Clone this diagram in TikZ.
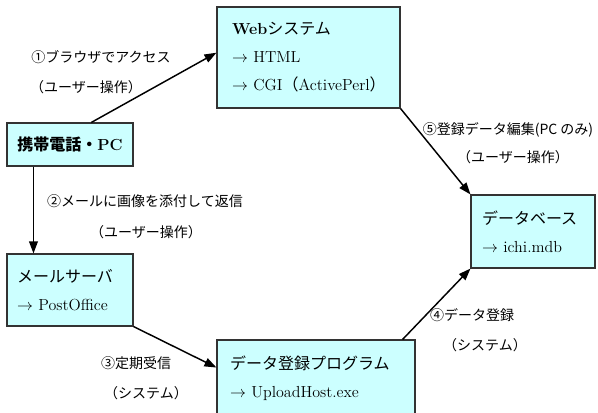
\documentclass[tikz,border=0pt]{standalone}
\usepackage{fontspec}
\usepackage{tikz}
\usetikzlibrary{arrows.meta}
\newfontfamily\jp{Noto Sans CJK JP}
\definecolor{boxfill}{RGB}{204,255,255}
\tikzset{
	sysbox/.style={draw=black!80, fill=boxfill, line width=0.8pt, align=left, font=\fontsize{12}{21}\selectfont},
	steplabel/.style={font=\jp\fontsize{10.5}{12}\selectfont, inner sep=0pt},
	flow/.style={line width=1.1pt, -{Triangle[length=9pt,width=6.5pt]}}
}
\begin{document}
\begin{tikzpicture}[x=0.75pt, y=-0.75pt]
			%%%%% START %%%%%
			\clip (0, 0) rectangle (598, 412);
			\fill[white] (0, 0) rectangle (598, 412);
			
			\node[sysbox, text width=114.75pt, inner xsep=11.25pt, minimum height=75.75pt] (web) at (308.5, 57.5) {\textbf{Web}{\jp システム}\\\mbox{$\rightarrow$~HTML}\\\mbox{$\rightarrow$~CGI{\jp （}ActivePerl{\jp ）}}};
			\node[sysbox, align=center, minimum width=94.5pt, minimum height=32.25pt] (pc) at (70, 144.5) {{\jp\bfseries 携帯電話・}\textbf{PC}};
			\node[sysbox, text width=79.5pt, inner xsep=7.5pt, minimum height=54pt] (mail) at (70, 290) {{\jp メールサーバ}\\\mbox{$\rightarrow$~PostOffice}};
			\node[sysbox, text width=129pt, inner xsep=9.75pt, minimum height=57pt] (prog) at (316, 378) {{\jp データ登録プログラム}\\\mbox{$\rightarrow$~UploadHost.exe}};
			\node[sysbox, text width=76.5pt, inner xsep=8.25pt, minimum height=54.75pt] (db) at (533, 231.5) {{\jp データベース}\\\mbox{$\rightarrow$~ichi.mdb}};
			
			\draw[flow] (pc.46) -- (web.177);
			\draw[flow] ([xshift=20.25pt]pc.south west) -- ([xshift=20.25pt]mail.north west);
			\draw[flow] (mail.south east) -- (prog.174);
			\draw[flow] (prog.24) -- (db.south west);
			\draw[flow] (web.south east) -- (db.north west);
			
			\node[steplabel] (lab1a) at (101, 57) {①ブラウザでアクセス};
			\node[steplabel] (lab1b) at (86, 87) {（ユーザー操作）};
			\node[steplabel] (lab2a) at (145, 201) {②メールに画像を添付して返信};
			\node[steplabel] (lab2b) at (146, 232) {（ユーザー操作）};
			\node[steplabel] (lab3a) at (136, 363) {③定期受信};
			\node[steplabel] (lab3b) at (146, 393) {（システム）};
			\node[steplabel] (lab4a) at (472, 315) {④データ登録};
			\node[steplabel] (lab4b) at (485, 345) {（システム）};
			\node[steplabel] (lab5a) at (508, 130) {⑤登録データ編集(PC のみ)};
			\node[steplabel] (lab5b) at (513, 157) {（ユーザー操作）};
			
			%%%%% END %%%%%
\end{tikzpicture}
\end{document}
